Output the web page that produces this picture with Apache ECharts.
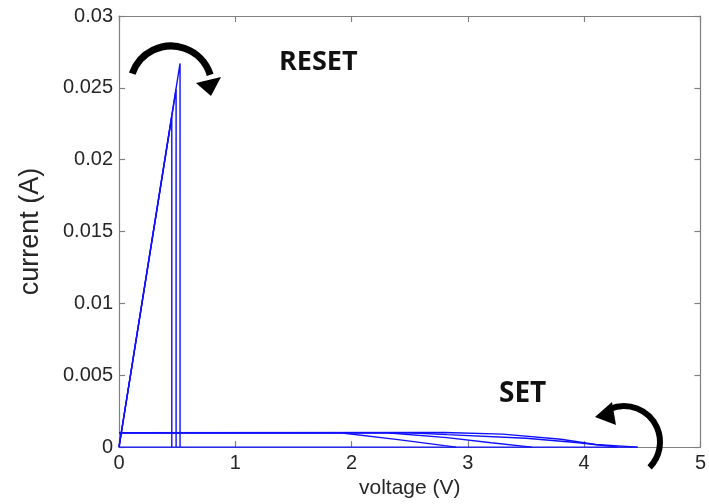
<!DOCTYPE html>
<html>
<head>
<meta charset="utf-8">
<script src="https://cdn.jsdelivr.net/npm/echarts@6/dist/echarts.min.js"></script>
<style>html,body{margin:0;padding:0;background:#fff}#c{width:709px;height:504px}</style>
</head>
<body>
<div id="c"></div>
<script>
// ---- data (voltage V, current A) ----
const xTicks = [0, 1, 2, 3, 4, 5];
const yTicks = [0, 0.005, 0.01, 0.015, 0.02, 0.025, 0.03];
const xLabel = 'voltage (V)';
const yLabel = 'current (A)';

// RESET sweeps
const reset1 = [[0, 0], [0.454, 0.0230], [0.454, 0]];
const reset2 = [[0, 0], [0.491, 0.0249], [0.491, 0]];
const reset3 = [[0, 0], [0.525, 0.0267], [0.525, 0]];

// SET sweeps (compliance ~1 mA)
const set1 = [[0, 0.001], [1.9, 0.001], [2.4, 0.00052], [2.8, 0.0001], [2.9, 0]];
const set2 = [[0, 0.001], [2.3, 0.001], [2.82, 0.00066], [3.2, 0.0003], [3.55, 0]];
const set3 = [[0, 0.001], [2.5, 0.001], [2.82, 0.00087], [3.5, 0.00062], [3.93, 0.00032], [4.29, 0]];
const set4 = [[0, 0.001], [2.8, 0.00102], [3.3, 0.0009], [3.8, 0.00055], [4.1, 0.00018], [4.46, 0]];
const baseline = [[0, 0], [4.46, 0]];

const curves = [reset1, reset2, reset3, set1, set2, set3, set4, baseline];

const chart = echarts.init(document.getElementById('c'));
const axisGray = '#808080';
const labelColor = '#262626';
const fontFam = '"Liberation Sans", Arial, sans-serif';

function fmtY(v) { return String(+v.toFixed(3)); }

const xBase = {
  type: 'value', min: xTicks[0], max: xTicks[xTicks.length - 1], interval: 1,
  axisLine: { show: true, onZero: false, lineStyle: { color: axisGray, width: 1.2 } },
  axisTick: { show: true, inside: true, length: 6, lineStyle: { color: axisGray, width: 1.2 } },
  splitLine: { show: false }
};
const yBase = {
  type: 'value', min: yTicks[0], max: yTicks[yTicks.length - 1], interval: 0.005,
  axisLine: { show: true, onZero: false, lineStyle: { color: axisGray, width: 1.2 } },
  axisTick: { show: true, inside: true, length: 6, lineStyle: { color: axisGray, width: 1.2 } },
  splitLine: { show: false }
};

chart.setOption({
  animation: false,
  backgroundColor: '#fff',
  grid: { left: 119, right: 3, top: 16, bottom: 56, containLabel: false },
  xAxis: [
    Object.assign({}, xBase, {
      position: 'bottom',
      name: xLabel, nameLocation: 'middle', nameGap: 30,
      nameTextStyle: { fontFamily: fontFam, fontSize: 21, color: labelColor },
      axisLabel: { fontFamily: fontFam, fontSize: 20, color: labelColor, margin: 6 }
    }),
    Object.assign({}, xBase, { position: 'top', axisLabel: { show: false } })
  ],
  yAxis: [
    Object.assign({}, yBase, {
      position: 'left',
      name: yLabel, nameLocation: 'middle', nameGap: 75, nameRotate: 90,
      nameTextStyle: { fontFamily: fontFam, fontSize: 27, color: labelColor },
      axisLabel: { fontFamily: fontFam, fontSize: 20, color: labelColor, margin: 6, formatter: fmtY }
    }),
    Object.assign({}, yBase, { position: 'right', axisLabel: { show: false } })
  ],
  series: curves.map(d => ({
    type: 'line', data: d, xAxisIndex: 0, yAxisIndex: 0,
    symbol: 'none', clip: false,
    lineStyle: { color: '#1010ff', width: 1.4 }
  })),
  graphic: [
    { type: 'text', left: 279, top: 49, z: 10,
      style: { text: 'RESET', font: 'bold 27px "Open Sans", sans-serif', fill: '#111' } },
    { type: 'text', left: 499, top: 380, z: 10,
      style: { text: 'SET', font: 'bold 28px "Open Sans", sans-serif', fill: '#111' } },
    // RESET arrow
    { type: 'arc', z: 10,
      shape: { cx: 171, cy: 87, r: 41, startAngle: Math.PI + 0.33, endAngle: 2 * Math.PI - 0.3, clockwise: true },
      style: { stroke: '#000', lineWidth: 7, fill: null } },
    { type: 'polygon', z: 10,
      shape: { points: [[196, 83], [221, 77], [211, 96]] },
      style: { fill: '#000' } },
    // SET arrow
    { type: 'arc', z: 10,
      shape: { cx: 624, cy: 442, r: 36, startAngle: 4.3, endAngle: 2 * Math.PI + 0.78, clockwise: true },
      style: { stroke: '#000', lineWidth: 6, fill: null } },
    { type: 'polygon', z: 10,
      shape: { points: [[595, 417], [612, 402], [616, 425]] },
      style: { fill: '#000' } }
  ]
});
</script>
</body>
</html>
